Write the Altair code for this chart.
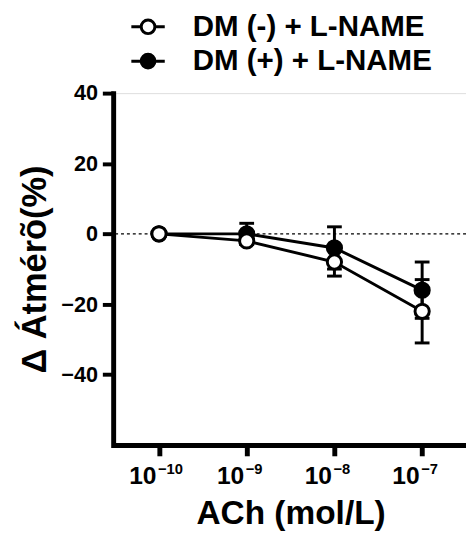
import altair as alt
import pandas as pd

series_names = ["DM (-) + L-NAME", "DM (+) + L-NAME"]
conc_exp = [-10, -9, -8, -7]
tick_base = ["10", "10", "10", "10"]
tick_exp = ["\u221210", "\u22129", "\u22128", "\u22127"]
dm_minus_mean = [0, -2, -8, -22]
dm_minus_sem = [0, 1, 4, 9]
dm_plus_mean = [0, 0, -4, -16]
dm_plus_sem = [0, 3, 6, 8]
y_ticks = [-40, -20, 0, 20, 40]

rows = []
for name, means, sems in [(series_names[1], dm_plus_mean, dm_plus_sem),
                          (series_names[0], dm_minus_mean, dm_minus_sem)]:
    for xv, m, s in zip(conc_exp, means, sems):
        rows.append(dict(series=name, x=xv, mean=m, lo=m - s, hi=m + s, sem=s))
df = pd.DataFrame(rows)
err = df[df["sem"] > 0]
exp_df = pd.DataFrame({"x": conc_exp, "label": tick_exp})

FONT = "Liberation Sans, Arial, sans-serif"

label_expr = "[" + ",".join("'%s'" % t for t in tick_base) + "][indexof([" + \
    ",".join(str(v) for v in conc_exp) + "], datum.value)]"

xs = alt.Scale(domain=[-10.5, -6.5], nice=False, zero=False)
ys = alt.Scale(domain=[-60, 40], nice=False, zero=False)

x_axis = alt.Axis(values=conc_exp, labelExpr=label_expr, grid=False,
                  tickSize=11, tickWidth=5, tickColor="black",
                  domainWidth=5, domainColor="black", domainCap="square",
                  labelFontSize=25, labelFontWeight="bold", labelColor="black",
                  labelFont=FONT, labelPadding=28, labelBaseline="alphabetic",
                  labelAlign="right", labelOffset=-3,
                  title="ACh (mol/L)", titleFontSize=34, titleFontWeight="bold",
                  titleFont=FONT, titleColor="black", titlePadding=9)
y_axis = alt.Axis(values=y_ticks, grid=False, offset=2,
                  tickSize=11, tickWidth=4, tickColor="black",
                  domainWidth=5, domainColor="black", domainCap="square",
                  labelFontSize=22, labelFontWeight="bold", labelColor="black",
                  labelFont=FONT, labelPadding=5,
                  title="Δ Átmérõ(%)", titleFontSize=35, titleFontWeight="bold",
                  titleFont=FONT, titleColor="black", titlePadding=9)

X = alt.X("x:Q", scale=xs, axis=x_axis)

zero = alt.Chart(pd.DataFrame({"y": [0]})).mark_rule(
    color="black", strokeWidth=1.5, strokeDash=[3, 3]
).encode(y=alt.Y("y:Q", scale=ys, axis=y_axis))

lines = alt.Chart(df).mark_line(color="black", strokeWidth=3).encode(
    x=X, y=alt.Y("mean:Q", scale=ys, axis=y_axis), detail="series:N")

err_rules = alt.Chart(err).mark_rule(color="black", strokeWidth=3).encode(
    x=X, y=alt.Y("lo:Q", scale=ys, axis=y_axis), y2="hi:Q", detail="series:N")

cap_lo = alt.Chart(err).mark_tick(color="black", orient="horizontal", size=15,
                                   thickness=3, opacity=1).encode(
    x=X, y=alt.Y("lo:Q", scale=ys, axis=y_axis))
cap_hi = alt.Chart(err).mark_tick(color="black", orient="horizontal", size=15,
                                   thickness=3, opacity=1).encode(
    x=X, y=alt.Y("hi:Q", scale=ys, axis=y_axis))

# exponent part of the x tick labels (superscript)
exps = alt.Chart(exp_df).mark_text(
    align="left", baseline="alphabetic", dx=-1, dy=30, fontSize=15,
    fontWeight="bold", font=FONT, color="black"
).encode(x=X, y=alt.datum(-60), text="label:N")

r = 0.41
sym_path = ("M-1,0L-{r},0M{r},0L1,0M{r},0A{r},{r} 0 1,1 -{r},0"
            "A{r},{r} 0 1,1 {r},0").format(r=r)

points = alt.Chart(df).mark_point(shape="circle", filled=True, stroke="black",
                                  strokeWidth=3, size=210, opacity=1).encode(
    x=X, y=alt.Y("mean:Q", scale=ys, axis=y_axis),
    fill=alt.Fill("series:N",
                  scale=alt.Scale(domain=series_names, range=["white", "black"]),
                  legend=alt.Legend(title=None, orient="none", legendX=15, legendY=-86,
                                    symbolType=sym_path, symbolSize=1156,
                                    symbolStrokeColor="black", symbolStrokeWidth=3,
                                    symbolOpacity=1,
                                    labelFontSize=30, labelFontWeight="bold",
                                    labelColor="black", labelFont=FONT, labelLimit=0,
                                    labelOffset=27, rowPadding=1, padding=0)),
)

chart = alt.layer(zero, lines, err_rules, cap_lo, cap_hi, points, exps).properties(
    width=357, height=358,
    autosize=alt.AutoSizeParams(type="none"),
    padding={"left": 109, "top": 82, "right": 0, "bottom": 88},
).configure_view(stroke=None).configure(background="white")

chart.save("out.html", embed_options={"renderer": "svg", "actions": False})
